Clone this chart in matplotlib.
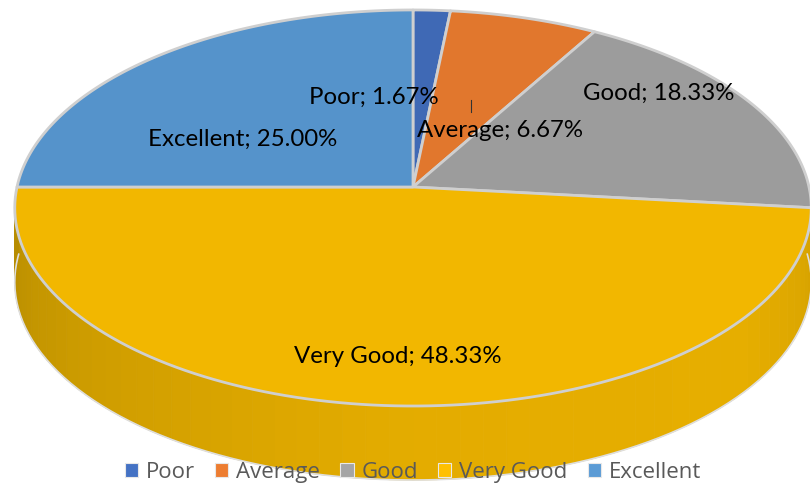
import numpy as np
import matplotlib
matplotlib.use("Agg")
import matplotlib.pyplot as plt
from matplotlib.patches import Polygon

categories = ["Poor", "Average", "Good", "Very Good", "Excellent"]
values = [1.67, 6.67, 18.33, 48.33, 25.00]
colors = ["#3F69B5", "#E1772D", "#9C9C9C", "#F2B700", "#5593CB"]
legend_colors = ["#4472C4", "#ED7D31", "#A5A5A5", "#FFC000", "#5B9BD5"]
label_pos = [(374, 97), (500, 130), (659, 93), (398, 356), (243, 139)]

CX, CY = 413, 187      # apex of the slices, in pixels
RX, RY, PERSP = 396, 195.8, 0.106
DEPTH = 74


def rim(theta, drop=0):
    # theta clockwise from 12 o'clock, circle seen in perspective
    den = 1 + PERSP * np.cos(theta)
    return np.column_stack([CX + RX * np.sin(theta) / den,
                            CY + drop - RY * np.cos(theta) / den])


def wall_color(theta):
    # darker towards the left and right ends of the side wall
    stops = np.radians([90, 130, 180, 225, 270])
    r = np.interp(theta, stops, [0xD2, 0xE6, 0xE4, 0xD0, 0xB6])
    g = np.interp(theta, stops, [0x9F, 0xAE, 0xAC, 0x9E, 0x8C])
    return (r / 255, g / 255, 0.0)


fig = plt.figure(figsize=(8.1, 4.86), dpi=100)
ax = fig.add_axes([0, 0, 1, 1])
ax.set_xlim(0, 810)
ax.set_ylim(486, 0)
ax.axis("off")

# side wall, faceted like the original
edges = np.radians(np.linspace(88, 272, 61))
for t0, t1 in zip(edges[:-1], edges[1:]):
    ts = np.array([t0, t1])
    pts = np.vstack([rim(ts), rim(ts[::-1], DEPTH)])
    c = wall_color((t0 + t1) / 2)
    ax.add_patch(Polygon(pts, closed=True, fc=c, ec=c, lw=0.6, zorder=1))
ts = np.linspace(edges[0], edges[-1], 200)
ax.plot(*rim(ts, DEPTH).T, color="#DEDEDE", lw=1.2, zorder=2)

# top surface
cum = np.cumsum([0] + values) / sum(values) * 2 * np.pi
for start, end, col in zip(cum[:-1], cum[1:], colors):
    ts = np.linspace(start, end, 120)
    pts = np.vstack([[CX, CY], rim(ts)])
    ax.add_patch(Polygon(pts, closed=True, fc=col, ec="#CFCFCF", lw=2.0,
                         joinstyle="round", zorder=3))

# labels
for name, val, (x, y) in zip(categories, values, label_pos):
    ax.text(x, y, f"{name}; {val:.2f}%", ha="center", va="center",
            fontsize=17.3, family="Lato", color="black", zorder=5)
ax.plot([471, 471], [100, 112], color="#333333", lw=0.8, zorder=4)

# legend
handles = [plt.Rectangle((0, 0), 1, 1, fc=c, ec="#E8E8E8", lw=0.8) for c in legend_colors]
ax.legend(handles, categories, loc="center", bbox_to_anchor=(413 / 810, 1 - 472 / 486),
          ncol=5, frameon=False, labelcolor="#595959",
          prop={"family": "Open Sans", "size": 16},
          handlelength=0.6, handleheight=0.6, handletextpad=0.36, columnspacing=0.9,
          borderpad=0, borderaxespad=0)

fig.savefig("out.png", dpi=100)
